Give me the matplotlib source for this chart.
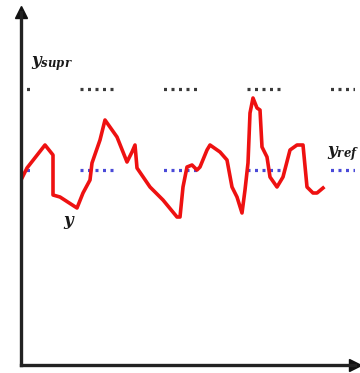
import matplotlib
matplotlib.use("Agg")
import matplotlib.pyplot as plt
import numpy as np

# process output y(t) (t from the y axis, y from the t axis)
t = [1, 6, 24, 32, 32, 39, 56, 62, 69, 71, 79, 84, 96, 102, 106, 111, 114, 116,
     129, 142, 156, 159, 162, 166, 171, 176, 179, 186, 189, 199, 206, 211, 216,
     221, 224, 227, 229, 232, 236, 239, 241, 246, 249, 256, 262, 269, 276, 282,
     286, 292, 296, 302]
y = [187, 197, 220, 210, 170, 168, 157, 172, 185, 202, 225, 245, 228, 213, 203,
     213, 220, 197, 178, 165, 148, 148, 178, 198, 200, 195, 198, 215, 220, 213,
     205, 178, 168, 152, 175, 202, 252, 267, 257, 255, 218, 208, 188, 178, 188,
     215, 220, 220, 178, 172, 172, 177]

y_supr = 276
y_ref = 195
t_max = 334
y_max = 353

plt.rcParams['lines.scale_dashes'] = False
plt.rcParams['mathtext.fontset'] = 'custom'
plt.rcParams['mathtext.it'] = 'DejaVu Serif:italic:bold'
plt.rcParams['mathtext.rm'] = 'DejaVu Serif:bold'

fig = plt.figure(figsize=(3.6, 3.73), dpi=100)
ax = fig.add_axes([21 / 360, 8 / 373, 334 / 360, 353 / 373])
ax.set_xlim(0, t_max)
ax.set_ylim(0, y_max)

# dotted groups: 5 dots, then a long gap
px = 0.72
pat = [3 * px, 4.5 * px] * 4 + [3 * px, 50.5 * px]
dots = (24.5 * px, pat)

ax.plot([0, t_max], [y_supr, y_supr], color='#3a3a3a', lw=2.3, linestyle=dots)
ax.plot([0, t_max], [y_ref, y_ref], color='#4a4ad8', lw=2.3, linestyle=dots)
ax.plot(t, y, color='#ee1111', lw=2.6)

ax.text(10, 300, r'$y_{supr}$', fontsize=12, color='#1a1a1a', va='baseline')
ax.text(306, 210, r'$y_{ref}$', fontsize=12, color='#1a1a1a', va='baseline',
        clip_on=False)
ax.text(42, 140, r'$y$', fontsize=12, color='#1a1a1a', va='baseline')

for s in ['top', 'right']:
    ax.spines[s].set_visible(False)
for s in ['left', 'bottom']:
    ax.spines[s].set_linewidth(2.4)
    ax.spines[s].set_color('#222222')
ax.set_xticks([])
ax.set_yticks([])

ax.plot(0, 1, marker='^', color='#111111', ms=8, transform=ax.transAxes,
        clip_on=False)
ax.plot(1, 0, marker='>', color='#111111', ms=8, transform=ax.transAxes,
        clip_on=False)

fig.savefig('out.png', dpi=100)
